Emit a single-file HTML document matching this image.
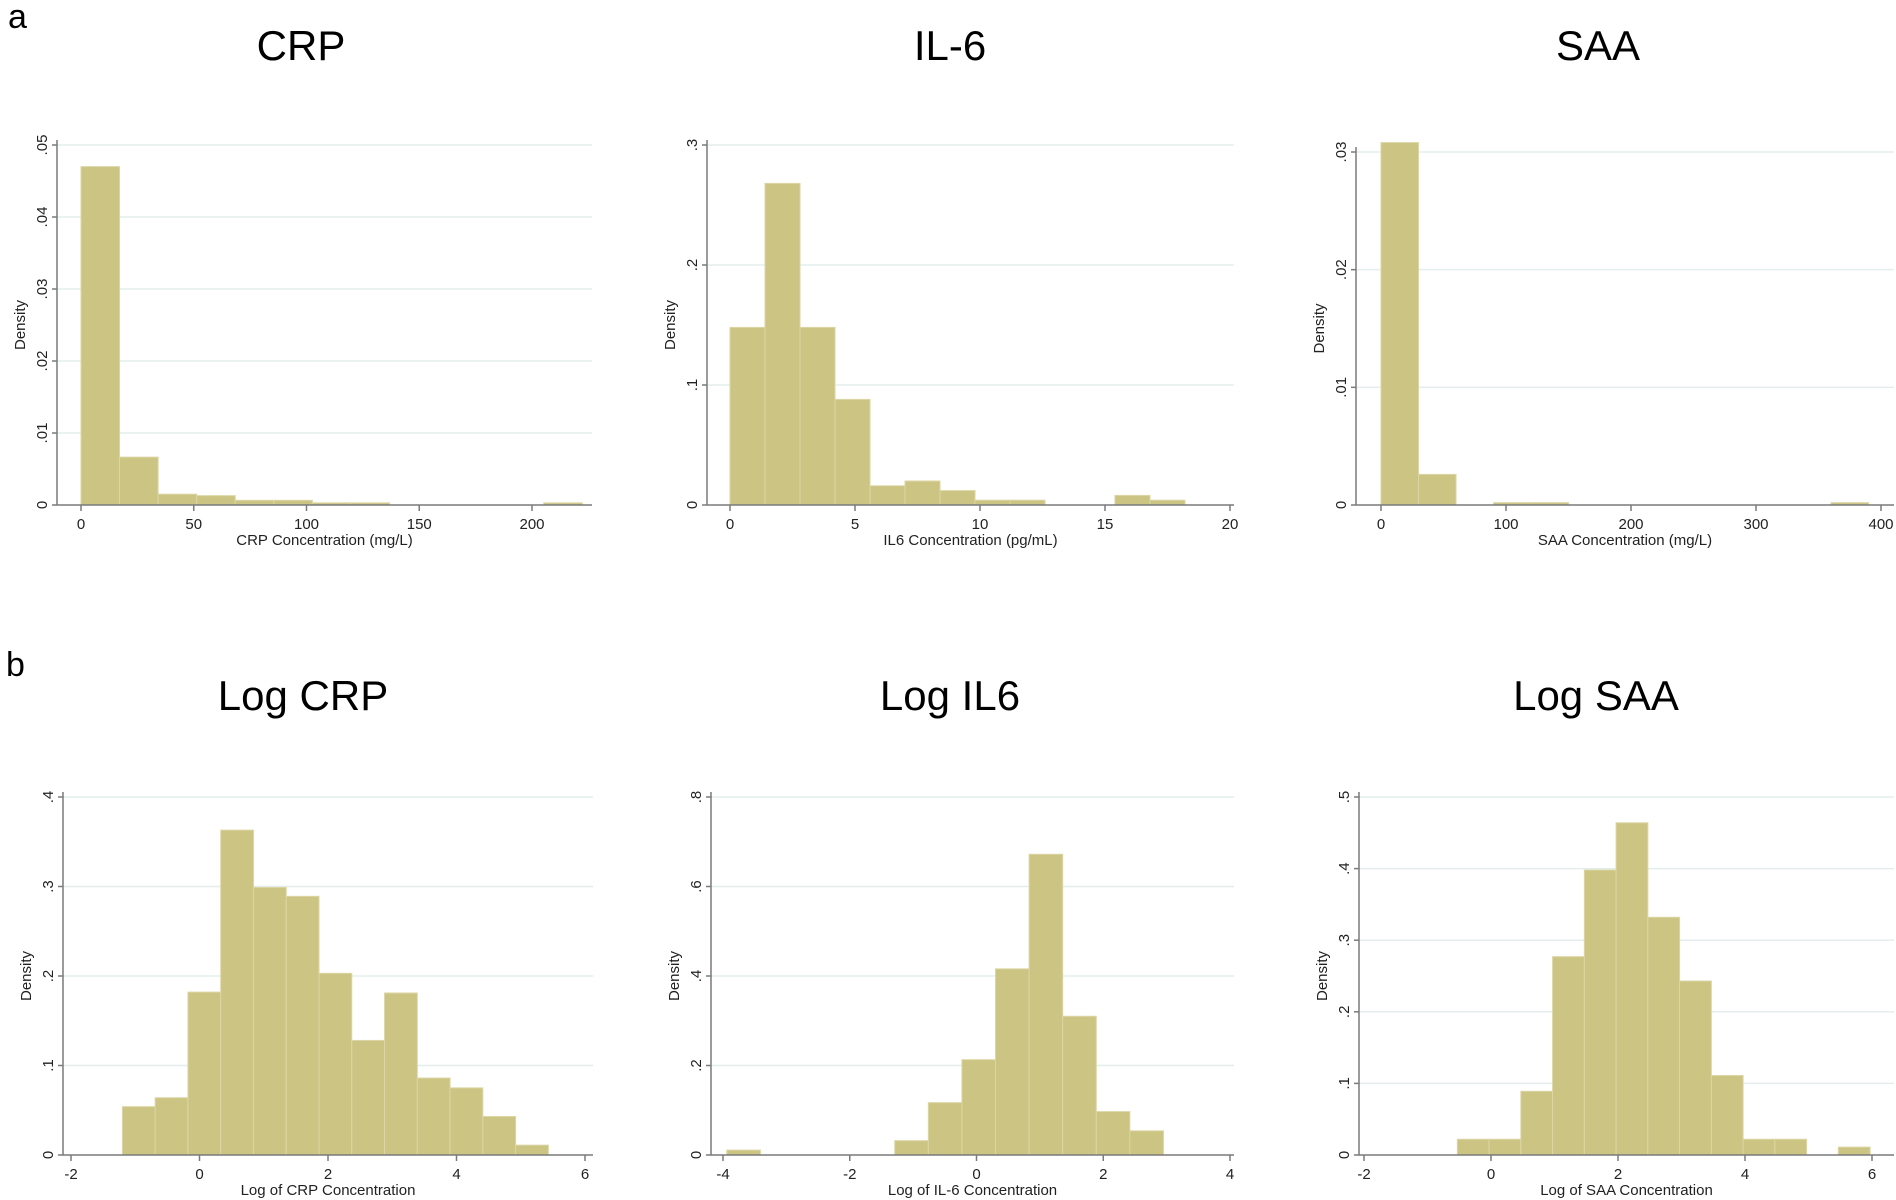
<!DOCTYPE html>
<html><head><meta charset="utf-8"><style>
body{margin:0;background:#fff;}
svg{display:block;font-family:"Liberation Sans",sans-serif;}
</style></head><body>
<svg id="fig" width="1896" height="1200" viewBox="0 0 1896 1200" xmlns="http://www.w3.org/2000/svg">
<rect width="1896" height="1200" fill="#fff"/>
<text x="8" y="28" font-size="34">a</text>
<text x="6" y="676" font-size="34">b</text>
</svg>
<script>
// ---- data ----
const crpBins = {start:0, width:17.1};
const crpDensity = [0.047,0.00665,0.0015,0.0013,0.00065,0.00065,0.0003,0.0003,0,0,0,0,0.0003];
const il6Bins = {start:0, width:1.4};
const il6Density = [0.148,0.268,0.148,0.088,0.016,0.020,0.012,0.004,0.004,0,0,0.008,0.004];
const saaBins = {start:0, width:30};
const saaDensity = [0.0308,0.0026,0,0.0002,0.0002,0,0,0,0,0,0,0,0.0002];
const logCrpBins = {start:-1.2, width:0.51};
const logCrpDensity = [0.054,0.064,0.182,0.363,0.299,0.289,0.203,0.128,0.181,0.086,0.075,0.043,0.011];
const logIl6Bins = {start:-3.94, width:0.53};
const logIl6Density = [0.011,0,0,0,0,0.032,0.117,0.213,0.416,0.672,0.31,0.097,0.054];
const logSaaBins = {start:-0.53, width:0.5};
const logSaaDensity = [0.022,0.022,0.089,0.277,0.398,0.464,0.332,0.243,0.111,0.022,0.022,0,0.011];

const crpXTicks=[0,50,100,150,200], crpYTicks=[0,0.01,0.02,0.03,0.04,0.05], crpYLabels=["0",".01",".02",".03",".04",".05"];
const il6XTicks=[0,5,10,15,20], il6YTicks=[0,0.1,0.2,0.3], il6YLabels=["0",".1",".2",".3"];
const saaXTicks=[0,100,200,300,400], saaYTicks=[0,0.01,0.02,0.03], saaYLabels=["0",".01",".02",".03"];
const logCrpXTicks=[-2,0,2,4,6], logCrpYTicks=[0,0.1,0.2,0.3,0.4], logCrpYLabels=["0",".1",".2",".3",".4"];
const logIl6XTicks=[-4,-2,0,2,4], logIl6YTicks=[0,0.2,0.4,0.6,0.8], logIl6YLabels=["0",".2",".4",".6",".8"];
const logSaaXTicks=[-2,0,2,4,6], logSaaYTicks=[0,0.1,0.2,0.3,0.4,0.5], logSaaYLabels=["0",".1",".2",".3",".4",".5"];

const NS="http://www.w3.org/2000/svg";
const svg=document.getElementById('fig');
function mk(tag,attrs,parent){const e=document.createElementNS(NS,tag);for(const k in attrs)e.setAttribute(k,attrs[k]);(parent||svg).appendChild(e);return e;}

function panel(o){
  const g=mk('g',{});
  
  
  const sx=v=>o.px0+(v-o.xv0)*(o.px1-o.px0)/(o.xv1-o.xv0);
  const sy=v=>o.py0-(v)*(o.py0-o.pyTop)/o.yMax;
  const t=mk('text',{x:o.tx,y:o.ty,'font-size':42,'text-anchor':'middle',fill:'#000'},g);
  t.textContent=o.title;
  
  
  o.yTicks.forEach((v,i)=>{
    if(v>0){const l=mk('line',{x1:o.axisX,x2:o.right,y1:sy(v),y2:sy(v),stroke:'#e4eeee','stroke-width':1.5},g);
      
      }
  });
  o.dens.forEach((d,i)=>{
    if(d<=0)return;
    const x0=sx(o.bins.start+i*o.bins.width), x1=sx(o.bins.start+(i+1)*o.bins.width);
    const r=mk('rect',{x:x0,y:sy(d),width:x1-x0,height:sy(0)-sy(d),fill:'#cbc482',stroke:'#dcd6a6','stroke-width':1},g);
    
    
  });
  const ya=mk('line',{x1:o.axisX,x2:o.axisX,y1:o.pyTop-5,y2:o.py0,stroke:'#7a7a7a','stroke-width':1.5},g);
  
  
  const xa=mk('line',{x1:o.axisX,x2:o.right,y1:o.py0,y2:o.py0,stroke:'#7a7a7a','stroke-width':1.5},g);
  
  
  o.yTicks.forEach((v,i)=>{
    mk('line',{x1:o.axisX-5,x2:o.axisX,y1:sy(v),y2:sy(v),stroke:'#7a7a7a','stroke-width':1.5},g);
    const tx=o.axisX-10, ty=sy(v);
    const lb=mk('text',{x:tx,y:ty,'font-size':15,'text-anchor':'middle',transform:`rotate(-90 ${tx} ${ty})`,fill:'#222'},g);
    lb.textContent=o.yLabels[i];
    
    
  });
  o.xTicks.forEach(v=>{
    mk('line',{x1:sx(v),x2:sx(v),y1:o.py0,y2:o.py0+6,stroke:'#7a7a7a','stroke-width':1.5},g);
    const lb=mk('text',{x:sx(v),y:o.py0+24,'font-size':15,'text-anchor':'middle',fill:'#222'},g);
    lb.textContent=String(v);
    
    
  });
  const xt=mk('text',{x:(o.axisX+o.right)/2,y:o.py0+40,'font-size':15,'text-anchor':'middle',fill:'#222'},g);
  xt.textContent=o.xTitle;
  
  
  const dx=o.axisX-32, dy=(o.pyTop+o.py0)/2;
  const yt=mk('text',{x:dx,y:dy,'font-size':15,'text-anchor':'middle',transform:`rotate(-90 ${dx} ${dy})`,fill:'#222'},g);
  yt.textContent='Density';
  
  
}

panel({id:'crp',title:'CRP',tx:301,ty:60,axisX:57,right:592,py0:505,pyTop:145,yMax:0.05,px0:81,px1:532,xv0:0,xv1:200,
  bins:crpBins,dens:crpDensity,xTicks:crpXTicks,yTicks:crpYTicks,yLabels:crpYLabels,xTitle:'CRP Concentration (mg/L)'});
panel({id:'il6',title:'IL-6',tx:950,ty:60,axisX:707,right:1234,py0:505,pyTop:145,yMax:0.3,px0:730,px1:1230,xv0:0,xv1:20,
  bins:il6Bins,dens:il6Density,xTicks:il6XTicks,yTicks:il6YTicks,yLabels:il6YLabels,xTitle:'IL6 Concentration (pg/mL)'});
panel({id:'saa',title:'SAA',tx:1598,ty:60,axisX:1356,right:1894,py0:505,pyTop:152,yMax:0.03,px0:1381,px1:1881,xv0:0,xv1:400,
  bins:saaBins,dens:saaDensity,xTicks:saaXTicks,yTicks:saaYTicks,yLabels:saaYLabels,xTitle:'SAA Concentration (mg/L)'});
panel({id:'log-crp',title:'Log CRP',tx:303,ty:710,axisX:63,right:593,py0:1155,pyTop:797,yMax:0.4,px0:71,px1:585,xv0:-2,xv1:6,
  bins:logCrpBins,dens:logCrpDensity,xTicks:logCrpXTicks,yTicks:logCrpYTicks,yLabels:logCrpYLabels,xTitle:'Log of CRP Concentration'});
panel({id:'log-il6',title:'Log IL6',tx:950,ty:710,axisX:711,right:1234,py0:1155,pyTop:797,yMax:0.8,px0:723,px1:1230,xv0:-4,xv1:4,
  bins:logIl6Bins,dens:logIl6Density,xTicks:logIl6XTicks,yTicks:logIl6YTicks,yLabels:logIl6YLabels,xTitle:'Log of IL-6 Concentration'});
panel({id:'log-saa',title:'Log SAA',tx:1596,ty:710,axisX:1359,right:1894,py0:1155,pyTop:797,yMax:0.5,px0:1364,px1:1872,xv0:-2,xv1:6,
  bins:logSaaBins,dens:logSaaDensity,xTicks:logSaaXTicks,yTicks:logSaaYTicks,yLabels:logSaaYLabels,xTitle:'Log of SAA Concentration'});
</script>
</body></html>
